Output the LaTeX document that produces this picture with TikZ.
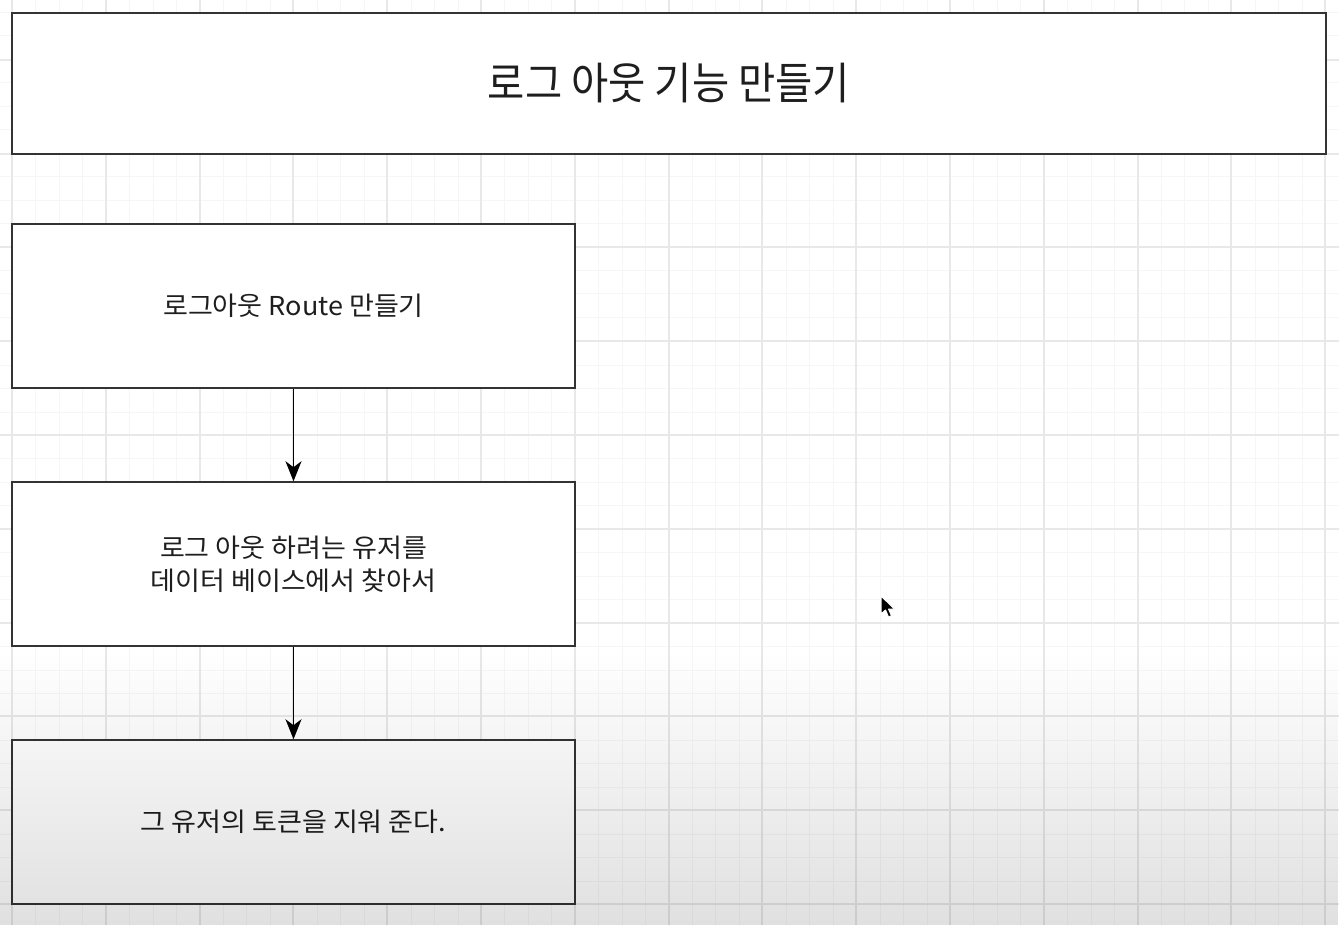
\documentclass[tikz,border=0pt]{standalone}
\usepackage{fontspec}
\setmainfont{Noto Sans CJK KR}
\newfontfamily\titlefont{Noto Sans CJK KR}[FakeStretch=0.92]
\newfontfamily\boxfont{Noto Sans CJK KR}[FakeStretch=1.04]
\usetikzlibrary{arrows.meta,fadings}
\definecolor{minorgrid}{HTML}{F6F6F6}
\definecolor{majorgrid}{HTML}{E8E8E8}
\definecolor{boxline}{HTML}{333333}
\definecolor{txt}{HTML}{1E1E1E}
\tikzfading[name=bottomfade, top color=transparent!100, bottom color=transparent!0]
\tikzset{
  minorline/.style={draw=minorgrid, line width=1pt},
  majorline/.style={draw=majorgrid, line width=1.2pt},
  stepbox/.style={draw=boxline, line width=1.5pt, fill=white, inner sep=0pt,
    minimum width=563pt, minimum height=164pt, text=txt, font=\boxfont\fontsize{26}{33}\selectfont, align=center},
  titlebox/.style={draw=boxline, line width=1.5pt, fill=white, inner sep=0pt,
    minimum width=1314pt, minimum height=141pt, text=txt, font=\titlefont\fontsize{44}{50}\selectfont},
  flow/.style={draw=black, line width=1.3pt, -{Stealth[length=20pt, width=16pt, inset=6pt]}}
}
\begin{document}
\begin{tikzpicture}[x=1pt, y=-1pt]
\useasboundingbox (0,0) rectangle (1339,925);
\fill[white] (0,0) rectangle (1339,925);
% grid
\foreach \i in {-1,...,57} {
  \pgfmathsetmacro\xx{round(12+23.45*\i)}
  \draw[minorline] (\xx,0) -- (\xx,925);
}
\foreach \j in {-1,...,39} {
  \pgfmathsetmacro\yy{round(904-23.45*\j)}
  \draw[minorline] (0,\yy) -- (1339,\yy);
}
\foreach \i in {0,...,14} {
  \pgfmathsetmacro\xx{round(12+93.8*\i)}
  \draw[majorline] (\xx,0) -- (\xx,925);
}
\foreach \j in {0,...,9} {
  \pgfmathsetmacro\yy{round(904-93.8*\j)}
  \draw[majorline] (0,\yy) -- (1339,\yy);
}
% boxes
\node[titlebox] (title) at (669,83.5) {로그 아웃 기능 만들기};
\node[stepbox] (b1) at (293.5,306) {로그아웃 Route 만들기};
\node[stepbox] (b2) at (293.5,564) {로그 아웃 하려는 유저를\\데이터 베이스에서 찾아서};
\node[stepbox] (b3) at (293.5,822) {그 유저의 토큰을 지워 준다.};
\draw[flow] (b1) -- (b2);
\draw[flow] (b2) -- (b3);
% bottom overlay shading
\fill[black, opacity=0.12, path fading=bottomfade] (0,650) rectangle (1339,925);
% cursor
\filldraw[fill=black, draw=white, line width=1pt, line join=round]
  (881,596) -- (881,614) -- (885.5,610) -- (888.5,617) -- (891.5,615.8) -- (888.5,609) -- (894.5,609) -- cycle;
\end{tikzpicture}
\end{document}
